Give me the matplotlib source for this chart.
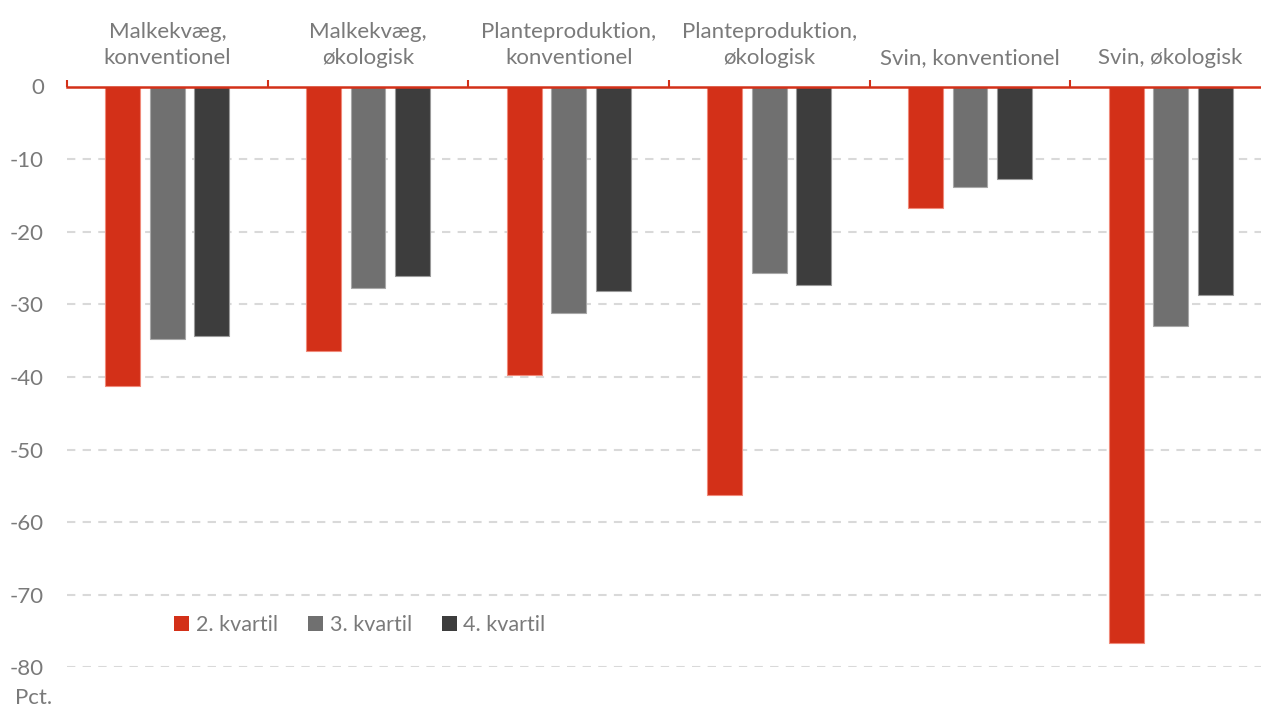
import matplotlib
matplotlib.use("Agg")
import matplotlib.pyplot as plt
from matplotlib.patches import Patch
import numpy as np

plt.rcParams['font.family'] = ['Lato', 'DejaVu Sans']

categories = ["Malkekvæg,\nkonventionel", "Malkekvæg,\nøkologisk",
              "Planteproduktion,\nkonventionel", "Planteproduktion,\nøkologisk",
              "Svin, konventionel", "Svin, økologisk"]
series_names = ["2. kvartil", "3. kvartil", "4. kvartil"]
q2 = [-41.2, -36.4, -39.7, -56.3, -16.7, -76.6]
q3 = [-34.8, -27.8, -31.2, -25.7, -13.8, -33.0]
q4 = [-34.4, -26.1, -28.2, -27.4, -12.7, -28.7]
yticks = [0, -10, -20, -30, -40, -50, -60, -70, -80]
unit_label = "Pct."

colors = ["#D33018", "#707070", "#3D3D3D"]
edges = ["#F08A7A", "#A8A8A8", "#9A9A9A"]
text_grey = "#7A7A7A"
axis_red = "#D33018"

W, H = 1261, 707
fig = plt.figure(figsize=(W / 100, H / 100), dpi=100)
ax = fig.add_axes([67 / W, 1 - 667.3 / H, 1204 / W, (667.3 - 86.5) / H])

x = np.arange(len(categories))
bar_w = 0.174
step = 0.222
for i, (vals, c, ec) in enumerate(zip([q2, q3, q4], colors, edges)):
    ax.bar(x + (i - 1) * step, vals, width=bar_w, color=c, edgecolor=ec,
           linewidth=0.8, zorder=3)

ax.set_xlim(-0.5, len(categories) - 0.5)
ax.set_ylim(-80, 0)

# horizontal dashed gridlines
ax.set_yticks(yticks)
ax.set_yticklabels([str(v) for v in yticks])
for v in yticks[1:]:
    ax.axhline(v, color="#D9D9D9", linewidth=1.5, linestyle=(0, (4, 3.5)), zorder=1)

ax.tick_params(axis='y', length=0, pad=16.5, labelsize=16, labelcolor=text_grey)

# category labels on top; zero line acts as the category axis
ax.xaxis.tick_top()
ax.set_xticks(x)
ax.set_xticklabels(categories, linespacing=1.38)
ax.set_xticks(np.arange(-0.5, len(categories) - 0.4, 1.0), minor=True)
ax.tick_params(axis='x', which='major', length=0, pad=13.5, labelsize=16,
               labelcolor=text_grey)
ax.tick_params(axis='x', which='minor', length=5, width=1.5, color=axis_red,
               direction='out', top=True, bottom=False)
for lbl in ax.get_xticklabels():
    lbl.set_verticalalignment('bottom')

for s in ["left", "right", "bottom"]:
    ax.spines[s].set_visible(False)
ax.spines["top"].set_color(axis_red)
ax.spines["top"].set_linewidth(1.8)
ax.spines["top"].set_zorder(4)

handles = [Patch(facecolor=c, edgecolor='none') for c in colors]
fig.legend(handles, series_names, loc='center left',
           bbox_to_anchor=(155 / W, 1 - 625 / H), ncol=3, frameon=False,
           fontsize=15.5, labelcolor=text_grey, handlelength=0.7, handleheight=0.7,
           handletextpad=0.3, columnspacing=1.4)

fig.text(15 / W, 1 - 698 / H, unit_label, fontsize=16, color=text_grey,
         ha='left', va='center')

fig.savefig("out.png", dpi=100)
